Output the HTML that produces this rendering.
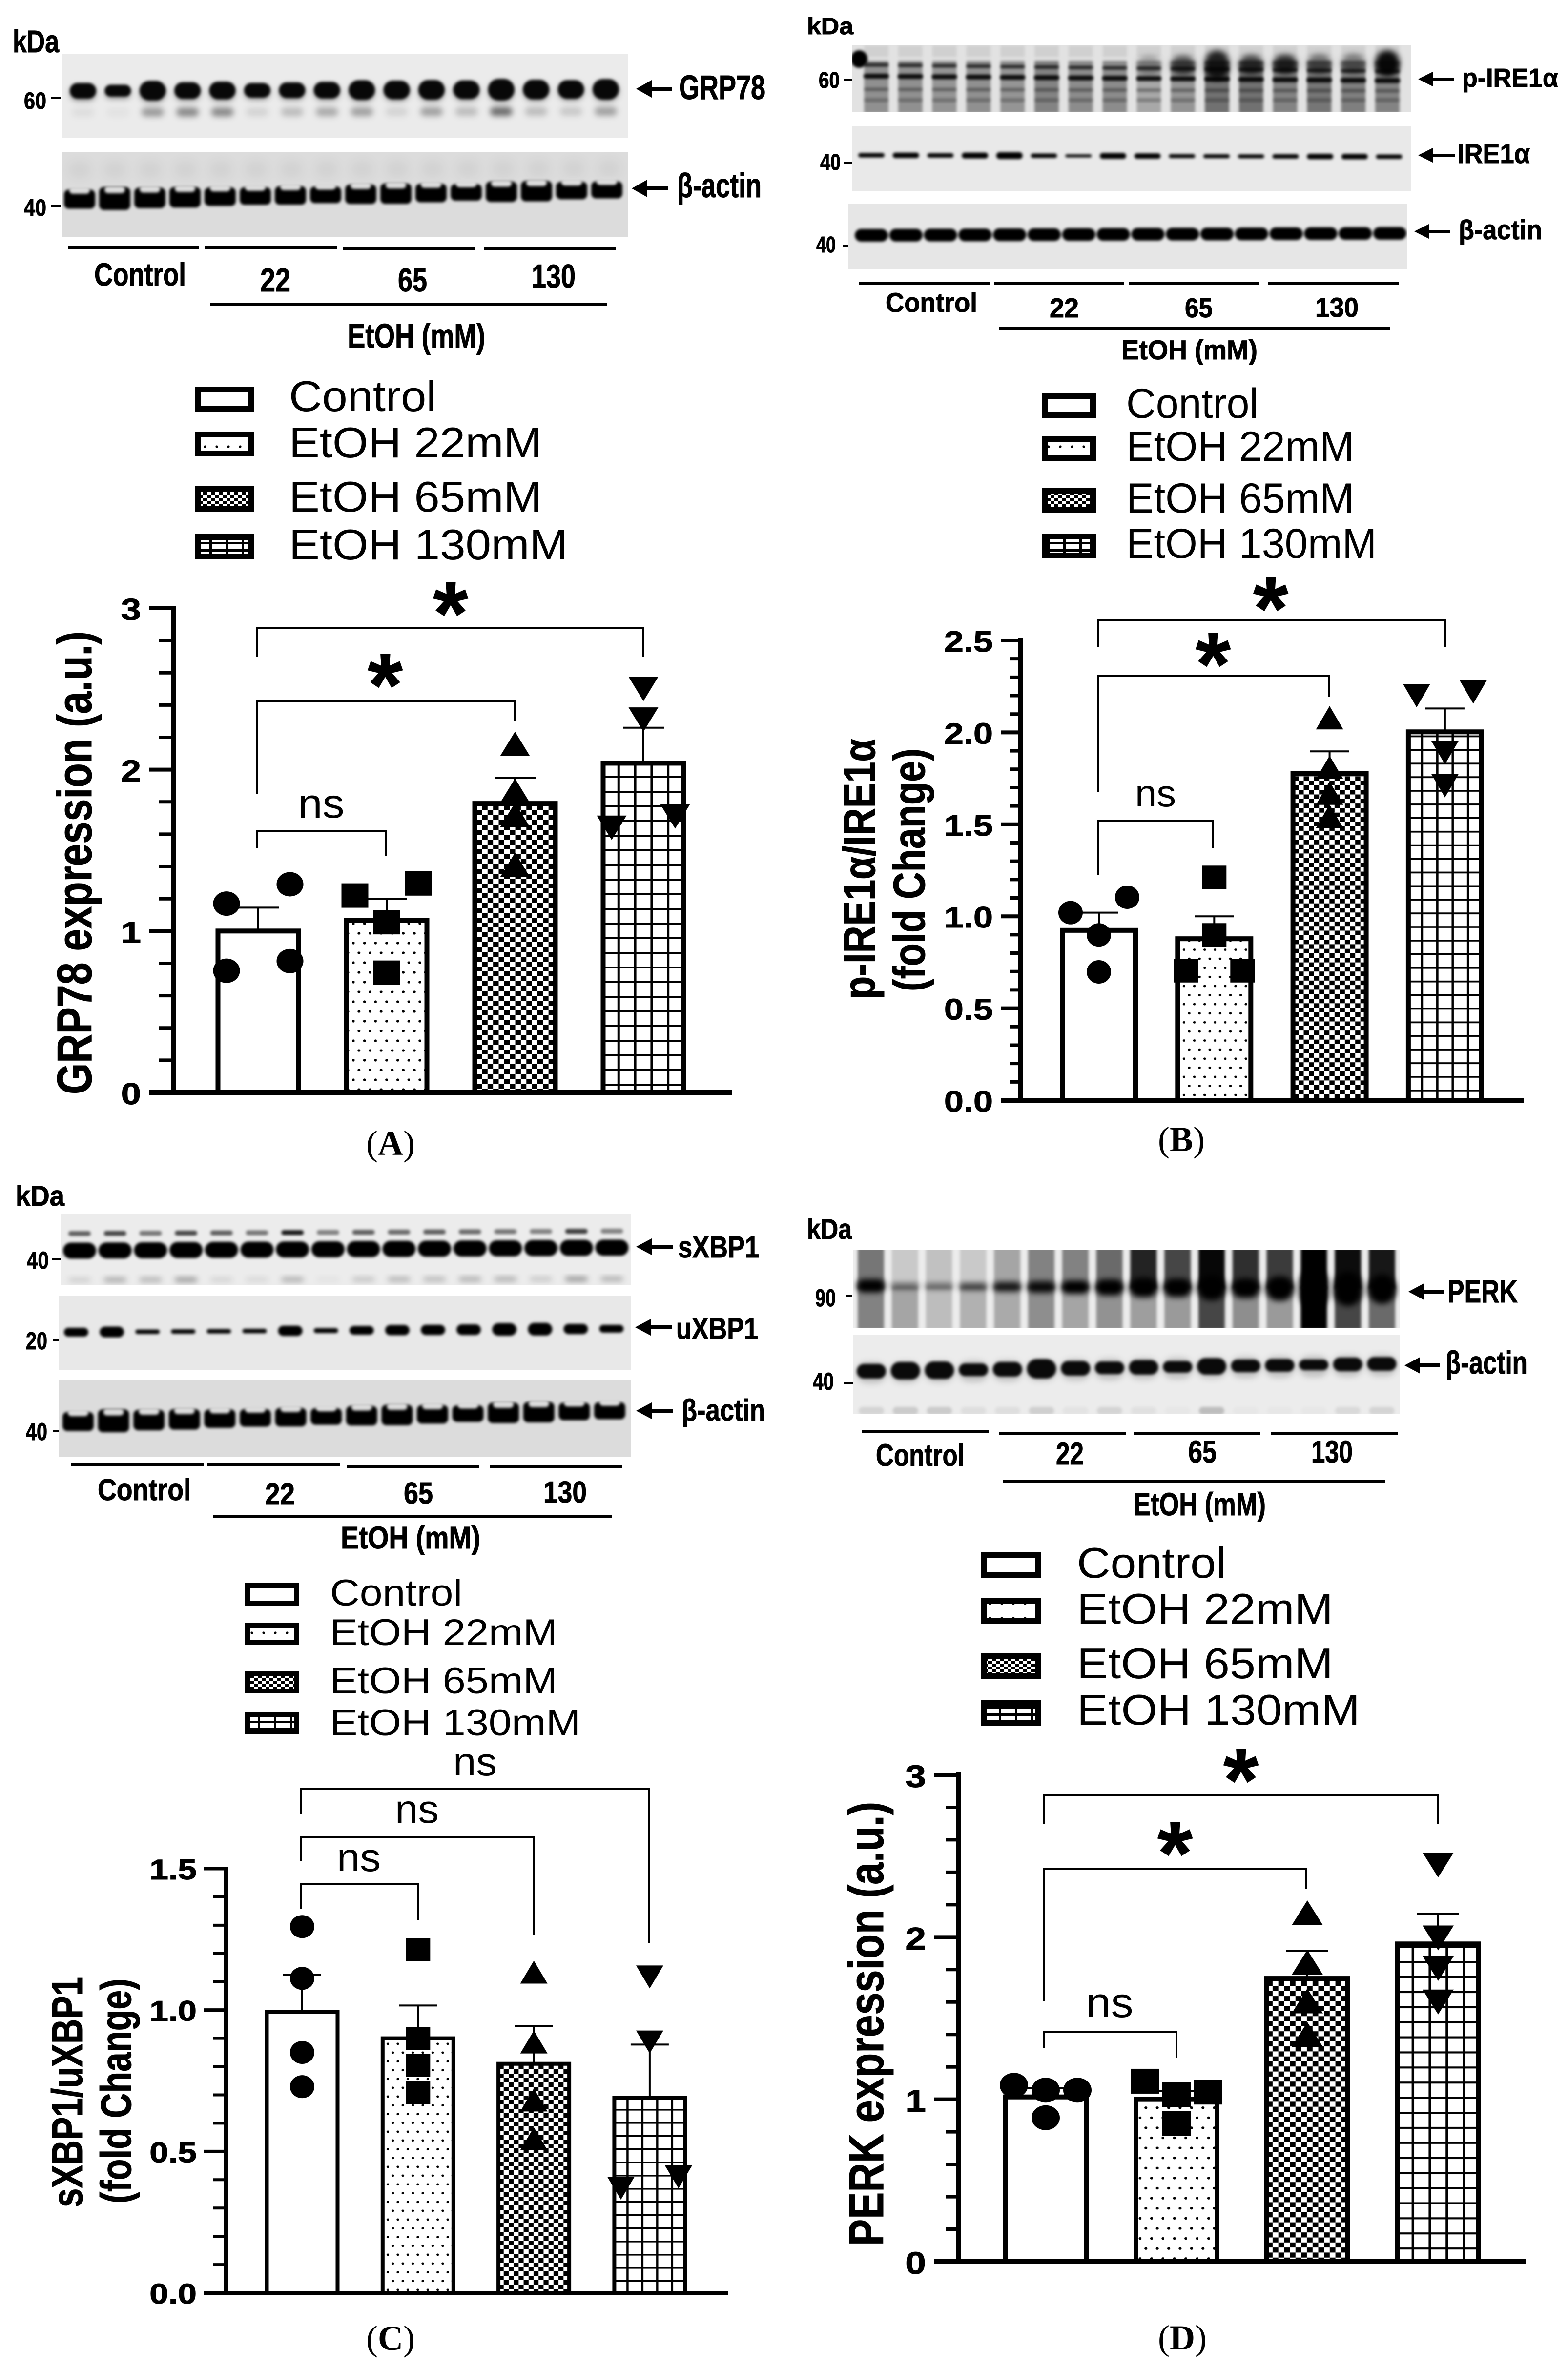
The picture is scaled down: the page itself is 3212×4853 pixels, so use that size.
<!DOCTYPE html>
<html lang="en"><head><meta charset="utf-8"><title>ER stress western blots and quantification</title>
<style>
html,body{margin:0;padding:0;background:#fff}
svg{display:block}
text{font-family:"Liberation Sans","DejaVu Sans",sans-serif;fill:#000}
.b{font-weight:700;stroke:#000;stroke-width:1}
.serif{font-family:"Liberation Serif",serif}
</style></head><body>
<svg id="figure" xmlns="http://www.w3.org/2000/svg" width="3212" height="4853" viewBox="0 0 3212 4853">
<defs>
<filter id="blur-s" x="-30%" y="-60%" width="160%" height="220%"><feGaussianBlur stdDeviation="3"/></filter>
<filter id="blur-m" x="-30%" y="-60%" width="160%" height="220%"><feGaussianBlur stdDeviation="6"/></filter>
<filter id="blur-l" x="-30%" y="-30%" width="160%" height="160%"><feGaussianBlur stdDeviation="9"/></filter>
<pattern id="dots" width="22.7" height="40" patternUnits="userSpaceOnUse"><rect width="22.7" height="40" fill="#fff"/><ellipse cx="20.3" cy="12" rx="3" ry="2.6"/><ellipse cx="8.9" cy="32" rx="3" ry="2.6"/></pattern>
<pattern id="check" width="22.7" height="20" patternUnits="userSpaceOnUse"><rect width="22.7" height="20" fill="#fff"/><rect width="11.35" height="10"/><rect x="11.35" y="10" width="11.35" height="10"/></pattern>
<pattern id="grid" width="33.8" height="30" patternUnits="userSpaceOnUse"><rect width="33.8" height="30" fill="#fff"/><rect x="14" width="5" height="30"/><rect width="33.8" height="4"/></pattern>
<pattern id="dots-a" href="#dots" patternTransform="scale(1)"/><pattern id="check-a" href="#check" patternTransform="scale(1)"/><pattern id="grid-a" href="#grid" patternTransform="translate(1284.6,0) scale(1)"/>
<pattern id="dots-b" href="#dots" patternTransform="scale(.93)"/><pattern id="check-b" href="#check" patternTransform="scale(.93)"/><pattern id="grid-b" href="#grid" patternTransform="translate(2929,0) scale(.93)"/>
<pattern id="dots-c" href="#dots" patternTransform="scale(.9)"/><pattern id="check-c" href="#check" patternTransform="scale(.9)"/><pattern id="grid-c" href="#grid" patternTransform="translate(1301,0) scale(.9)"/>
<pattern id="dots-d" href="#dots" patternTransform="scale(1.03)"/><pattern id="check-d" href="#check" patternTransform="scale(1.03)"/><pattern id="grid-d" href="#grid" patternTransform="translate(2912,0) scale(1.03)"/>
<pattern id="legend-dots" width="24" height="30" patternUnits="userSpaceOnUse"><rect width="24" height="30" fill="#fff"/><circle cx="12" cy="15" r="2.6"/></pattern>
<pattern id="legend-check" width="16" height="12" patternUnits="userSpaceOnUse"><rect width="16" height="12" fill="#fff"/><rect width="8" height="6"/><rect x="8" y="6" width="8" height="6"/></pattern>
<pattern id="legend-grid" width="33" height="15" patternUnits="userSpaceOnUse"><rect width="33" height="15" fill="#fff"/><rect width="5" height="15"/><rect width="33" height="5"/></pattern>
</defs>
<rect width="3212" height="4853" fill="#fff"/>
<g id="blots"></g>

<!-- Panel A blot annotations -->
<g>
<text class="b" x="26" y="107" font-size="64" textLength="95" lengthAdjust="spacingAndGlyphs">kDa</text>
<text class="b" x="49" y="223" font-size="48" textLength="46" lengthAdjust="spacingAndGlyphs">60</text>
<rect x="105" y="198" width="19" height="4"/>
<text class="b" x="49" y="442" font-size="48" textLength="46" lengthAdjust="spacingAndGlyphs">40</text>
<rect x="105" y="420" width="19" height="4"/>
<path d="M1303 182l32-18v14h41v8h-41v14z"/>
<text class="b" x="1391" y="203" font-size="70" textLength="177" lengthAdjust="spacingAndGlyphs">GRP78</text>
<path d="M1294 386l32-18v14h42v8h-42v14z"/>
<text class="b" x="1387" y="404" font-size="70" textLength="173" lengthAdjust="spacingAndGlyphs">β-actin</text>
<rect x="139" y="504" width="269" height="6"/><rect x="419" y="504" width="271" height="6"/><rect x="702" y="506" width="270" height="6"/><rect x="991" y="506" width="270" height="6"/>
<text class="b" x="193" y="585" font-size="66" textLength="188" lengthAdjust="spacingAndGlyphs">Control</text>
<text class="b" x="533" y="597" font-size="68" textLength="62" lengthAdjust="spacingAndGlyphs">22</text>
<text class="b" x="815" y="597" font-size="68" textLength="60" lengthAdjust="spacingAndGlyphs">65</text>
<text class="b" x="1089" y="589" font-size="68" textLength="90" lengthAdjust="spacingAndGlyphs">130</text>
<rect x="431" y="621" width="813" height="6"/>
<text class="b" x="712" y="712" font-size="70" textLength="282" lengthAdjust="spacingAndGlyphs">EtOH (mM)</text>
</g>
<g>
<rect x="406" y="798" width="109" height="40" fill="#fff" stroke="#000" stroke-width="12"/>
<rect x="406" y="890" width="109" height="39" fill="url(#legend-dots)" stroke="#000" stroke-width="12"/>
<rect x="406" y="1002" width="109" height="40" fill="url(#legend-check)" stroke="#000" stroke-width="12"/>
<rect x="406" y="1100" width="109" height="40" fill="url(#legend-grid)" stroke="#000" stroke-width="12"/>
<text x="592" y="842" font-size="88" textLength="302" lengthAdjust="spacingAndGlyphs">Control</text>
<text x="592" y="937" font-size="88" textLength="518" lengthAdjust="spacingAndGlyphs">EtOH 22mM</text>
<text x="592" y="1048" font-size="88" textLength="518" lengthAdjust="spacingAndGlyphs">EtOH 65mM</text>
<text x="592" y="1146" font-size="88" textLength="571" lengthAdjust="spacingAndGlyphs">EtOH 130mM</text>
</g>
<g id="chart-a"></g>
<g fill="none">
<path d="M526 1345V1287H1318V1345" stroke="#000" stroke-width="4" fill="none"/>
<path d="M526 1626V1437H1054V1477" stroke="#000" stroke-width="4" fill="none"/>
<path d="M526 1738V1703H791V1753" stroke="#000" stroke-width="4" fill="none"/>
<text class="b" x="923" y="1320" font-size="185" text-anchor="middle">*</text>
<text class="b" x="789" y="1467" font-size="185" text-anchor="middle">*</text>
<text x="658" y="1675" font-size="84" text-anchor="middle" textLength="95" lengthAdjust="spacingAndGlyphs">ns</text>
<text class="b" transform="translate(187,2242) rotate(-90)" font-size="100" textLength="949" lengthAdjust="spacingAndGlyphs">GRP78 expression (a.u.)</text>
<text class="serif" x="800" y="2366" font-size="72" text-anchor="middle">(<tspan font-weight="700">A</tspan>)</text>
</g>

<!-- Panel B blot annotations -->
<g>
<text class="b" x="1653" y="70" font-size="48" textLength="95" lengthAdjust="spacingAndGlyphs">kDa</text>
<text class="b" x="1677" y="180" font-size="46" textLength="43" lengthAdjust="spacingAndGlyphs">60</text>
<rect x="1728" y="161" width="17" height="4"/>
<text class="b" x="1680" y="348" font-size="46" textLength="42" lengthAdjust="spacingAndGlyphs">40</text>
<rect x="1728" y="331" width="17" height="4"/>
<text class="b" x="1672" y="517" font-size="46" textLength="40" lengthAdjust="spacingAndGlyphs">40</text>
<rect x="1726" y="501" width="12" height="4"/>
<path d="M2905 162l30-15v12h43v6h-43v12z"/>
<text class="b" x="2995" y="178" font-size="54" textLength="197" lengthAdjust="spacingAndGlyphs">p-IRE1α</text>
<path d="M2905 318l30-15v12h45v6h-45v12z"/>
<text class="b" x="2985" y="334" font-size="56" textLength="149" lengthAdjust="spacingAndGlyphs">IRE1α</text>
<path d="M2897 474l30-15v12h43v6h-43v12z"/>
<text class="b" x="2988" y="490" font-size="56" textLength="171" lengthAdjust="spacingAndGlyphs">β-actin</text>
<rect x="1760" y="578" width="267" height="5"/><rect x="2036" y="578" width="266" height="5"/><rect x="2313" y="578" width="266" height="5"/><rect x="2598" y="578" width="267" height="5"/>
<text class="b" x="1814" y="639" font-size="56" textLength="188" lengthAdjust="spacingAndGlyphs">Control</text>
<text class="b" x="2150" y="650" font-size="56" textLength="60" lengthAdjust="spacingAndGlyphs">22</text>
<text class="b" x="2427" y="650" font-size="56" textLength="57" lengthAdjust="spacingAndGlyphs">65</text>
<text class="b" x="2694" y="649" font-size="56" textLength="89" lengthAdjust="spacingAndGlyphs">130</text>
<rect x="2046" y="670" width="802" height="5"/>
<text class="b" x="2297" y="736" font-size="56" textLength="279" lengthAdjust="spacingAndGlyphs">EtOH (mM)</text>
</g>
<g>
<rect x="2141" y="811" width="98" height="39" fill="#fff" stroke="#000" stroke-width="12"/>
<rect x="2141" y="899" width="98" height="39" fill="url(#legend-dots)" stroke="#000" stroke-width="12"/>
<rect x="2141" y="1005" width="98" height="39" fill="url(#legend-check)" stroke="#000" stroke-width="12"/>
<rect x="2141" y="1099" width="98" height="39" fill="url(#legend-grid)" stroke="#000" stroke-width="12"/>
<text x="2307" y="856" font-size="86" textLength="271" lengthAdjust="spacingAndGlyphs">Control</text>
<text x="2307" y="944" font-size="86" textLength="467" lengthAdjust="spacingAndGlyphs">EtOH 22mM</text>
<text x="2307" y="1050" font-size="86" textLength="467" lengthAdjust="spacingAndGlyphs">EtOH 65mM</text>
<text x="2307" y="1143" font-size="86" textLength="513" lengthAdjust="spacingAndGlyphs">EtOH 130mM</text>
</g>
<g id="chart-b"></g>
<g>
<path d="M2249 1325V1270H2960V1325" stroke="#000" stroke-width="4" fill="none"/>
<path d="M2249 1622V1385H2723V1427" stroke="#000" stroke-width="4" fill="none"/>
<path d="M2249 1792V1682H2485V1738" stroke="#000" stroke-width="4" fill="none"/>
<text class="b" x="2603" y="1310" font-size="185" text-anchor="middle">*</text>
<text class="b" x="2485" y="1424" font-size="185" text-anchor="middle">*</text>
<text x="2367" y="1652" font-size="78" text-anchor="middle" textLength="84" lengthAdjust="spacingAndGlyphs">ns</text>
<text class="b" transform="translate(1792,2047) rotate(-90)" font-size="92" textLength="534" lengthAdjust="spacingAndGlyphs">p-IRE1α/IRE1α</text>
<text class="b" transform="translate(1894,2031) rotate(-90)" font-size="92" textLength="498" lengthAdjust="spacingAndGlyphs">(fold Change)</text>
<text class="serif" x="2420" y="2358" font-size="72" text-anchor="middle">(<tspan font-weight="700">B</tspan>)</text>
</g>

<!-- Panel C blot annotations -->
<g>
<text class="b" x="32" y="2470" font-size="58" textLength="100" lengthAdjust="spacingAndGlyphs">kDa</text>
<text class="b" x="55" y="2599" font-size="50" textLength="45" lengthAdjust="spacingAndGlyphs">40</text>
<rect x="107" y="2578" width="17" height="4"/>
<text class="b" x="53" y="2764" font-size="50" textLength="44" lengthAdjust="spacingAndGlyphs">20</text>
<rect x="108" y="2744" width="13" height="4"/>
<text class="b" x="53" y="2950" font-size="50" textLength="44" lengthAdjust="spacingAndGlyphs">40</text>
<rect x="108" y="2930" width="13" height="4"/>
<path d="M1303 2554l32-17v13h43v8h-43v13z"/>
<text class="b" x="1389" y="2576" font-size="62" textLength="166" lengthAdjust="spacingAndGlyphs">sXBP1</text>
<path d="M1301 2719l32-17v13h43v8h-43v13z"/>
<text class="b" x="1385" y="2743" font-size="62" textLength="168" lengthAdjust="spacingAndGlyphs">uXBP1</text>
<path d="M1303 2890l32-17v13h43v8h-43v13z"/>
<text class="b" x="1396" y="2910" font-size="62" textLength="172" lengthAdjust="spacingAndGlyphs">β-actin</text>
<rect x="145" y="2998" width="272" height="6"/><rect x="425" y="2998" width="272" height="6"/><rect x="710" y="3001" width="271" height="6"/><rect x="1003" y="3001" width="272" height="6"/>
<text class="b" x="200" y="3073" font-size="62" textLength="191" lengthAdjust="spacingAndGlyphs">Control</text>
<text class="b" x="543" y="3082" font-size="62" textLength="61" lengthAdjust="spacingAndGlyphs">22</text>
<text class="b" x="827" y="3080" font-size="62" textLength="60" lengthAdjust="spacingAndGlyphs">65</text>
<text class="b" x="1113" y="3078" font-size="62" textLength="89" lengthAdjust="spacingAndGlyphs">130</text>
<rect x="437" y="3104" width="817" height="6"/>
<text class="b" x="698" y="3172" font-size="64" textLength="286" lengthAdjust="spacingAndGlyphs">EtOH (mM)</text>
</g>
<g>
<rect x="507" y="3248" width="100" height="36" fill="#fff" stroke="#000" stroke-width="10"/>
<rect x="507" y="3330" width="100" height="35" fill="url(#legend-dots)" stroke="#000" stroke-width="10"/>
<rect x="507" y="3428" width="100" height="36" fill="url(#legend-check)" stroke="#000" stroke-width="10"/>
<rect x="507" y="3512" width="100" height="36" fill="url(#legend-grid)" stroke="#000" stroke-width="10"/>
<text x="676" y="3289" font-size="76" textLength="271" lengthAdjust="spacingAndGlyphs">Control</text>
<text x="676" y="3370" font-size="76" textLength="466" lengthAdjust="spacingAndGlyphs">EtOH 22mM</text>
<text x="676" y="3469" font-size="76" textLength="466" lengthAdjust="spacingAndGlyphs">EtOH 65mM</text>
<text x="676" y="3555" font-size="76" textLength="513" lengthAdjust="spacingAndGlyphs">EtOH 130mM</text>
</g>
<g id="chart-c"></g>
<g>
<path d="M617 3716V3665H1330V3980" stroke="#000" stroke-width="4" fill="none"/>
<path d="M617 3813V3763H1094V3964" stroke="#000" stroke-width="4" fill="none"/>
<path d="M617 3911V3859H857V3934" stroke="#000" stroke-width="4" fill="none"/>
<text x="973" y="3637" font-size="82" text-anchor="middle" textLength="90" lengthAdjust="spacingAndGlyphs">ns</text>
<text x="854" y="3734" font-size="82" text-anchor="middle" textLength="90" lengthAdjust="spacingAndGlyphs">ns</text>
<text x="735" y="3833" font-size="82" text-anchor="middle" textLength="90" lengthAdjust="spacingAndGlyphs">ns</text>
<text class="b" transform="translate(168,4522) rotate(-90)" font-size="88" textLength="473" lengthAdjust="spacingAndGlyphs">sXBP1/uXBP1</text>
<text class="b" transform="translate(268,4514) rotate(-90)" font-size="88" textLength="461" lengthAdjust="spacingAndGlyphs">(fold Change)</text>
<text class="serif" x="800" y="4814" font-size="72" text-anchor="middle">(<tspan font-weight="700">C</tspan>)</text>
</g>

<!-- Panel D blot annotations -->
<g>
<text class="b" x="1653" y="2538" font-size="58" textLength="92" lengthAdjust="spacingAndGlyphs">kDa</text>
<text class="b" x="1670" y="2676" font-size="50" textLength="42" lengthAdjust="spacingAndGlyphs">90</text>
<rect x="1733" y="2652" width="12" height="4"/>
<text class="b" x="1665" y="2847" font-size="50" textLength="43" lengthAdjust="spacingAndGlyphs">40</text>
<rect x="1728" y="2831" width="19" height="4"/>
<path d="M2885 2646l32-17v13h40v8h-40v13z"/>
<text class="b" x="2965" y="2668" font-size="66" textLength="144" lengthAdjust="spacingAndGlyphs">PERK</text>
<path d="M2877 2797l32-17v13h41v8h-41v13z"/>
<text class="b" x="2961" y="2814" font-size="66" textLength="168" lengthAdjust="spacingAndGlyphs">β-actin</text>
<rect x="1765" y="2930" width="261" height="6"/><rect x="2046" y="2933" width="261" height="6"/><rect x="2322" y="2933" width="260" height="6"/><rect x="2603" y="2933" width="260" height="6"/>
<text class="b" x="1794" y="3003" font-size="64" textLength="182" lengthAdjust="spacingAndGlyphs">Control</text>
<text class="b" x="2163" y="3000" font-size="64" textLength="57" lengthAdjust="spacingAndGlyphs">22</text>
<text class="b" x="2434" y="2996" font-size="64" textLength="58" lengthAdjust="spacingAndGlyphs">65</text>
<text class="b" x="2686" y="2996" font-size="64" textLength="85" lengthAdjust="spacingAndGlyphs">130</text>
<rect x="2055" y="3031" width="783" height="6"/>
<text class="b" x="2322" y="3104" font-size="66" textLength="271" lengthAdjust="spacingAndGlyphs">EtOH (mM)</text>
</g>
<g>
<rect x="2015" y="3186" width="112" height="40" fill="#fff" stroke="#000" stroke-width="12"/>
<rect x="2015" y="3279" width="112" height="41" fill="url(#legend-dots)" stroke="#000" stroke-width="12"/>
<rect x="2015" y="3392" width="112" height="41" fill="url(#legend-check)" stroke="#000" stroke-width="12"/>
<rect x="2015" y="3489" width="112" height="40" fill="url(#legend-grid)" stroke="#000" stroke-width="12"/>
<text x="2206" y="3232" font-size="88" textLength="306" lengthAdjust="spacingAndGlyphs">Control</text>
<text x="2206" y="3326" font-size="88" textLength="525" lengthAdjust="spacingAndGlyphs">EtOH 22mM</text>
<text x="2206" y="3438" font-size="88" textLength="525" lengthAdjust="spacingAndGlyphs">EtOH 65mM</text>
<text x="2206" y="3533" font-size="88" textLength="580" lengthAdjust="spacingAndGlyphs">EtOH 130mM</text>
</g>
<g id="chart-d"></g>
<g>
<path d="M2139 3737V3677H2945V3737" stroke="#000" stroke-width="4" fill="none"/>
<path d="M2139 4100V3829H2676V3870" stroke="#000" stroke-width="4" fill="none"/>
<path d="M2139 4196V4162H2410V4215" stroke="#000" stroke-width="4" fill="none"/>
<text class="b" x="2542" y="3710" font-size="185" text-anchor="middle">*</text>
<text class="b" x="2407" y="3860" font-size="185" text-anchor="middle">*</text>
<text x="2273" y="4132" font-size="86" text-anchor="middle" textLength="97" lengthAdjust="spacingAndGlyphs">ns</text>
<text class="b" transform="translate(1809,4601) rotate(-90)" font-size="100" textLength="910" lengthAdjust="spacingAndGlyphs">PERK expression (a.u.)</text>
<text class="serif" x="2422" y="4813" font-size="72" text-anchor="middle">(<tspan font-weight="700">D</tspan>)</text>
</g>
</svg>
<script>
// ---------- chart data ----------
const groups = ['control', 'etoh-22', 'etoh-65', 'etoh-130'];
const markerShapes = ['circle', 'square', 'up', 'down'];
const fillKinds = ['none', 'dots', 'check', 'grid'];

const grp78Means = [1.0, 1.067, 1.79, 2.04];
const grp78Errors = [1.145, 1.2, 1.95, 2.26];
const grp78Control = [1.17, 1.29, 0.754, 0.814];
const grp78Etoh22 = [1.22, 1.295, 1.055, 0.742];
const grp78Etoh65 = [2.16, 1.87, 1.72, 1.41];
const grp78Etoh130 = [2.5, 2.31, 1.64, 1.71];
const grp78Ticks = ['0', '1', '2', '3'];

const ire1Means = [0.924, 0.878, 1.777, 2.003];
const ire1Errors = [1.02, 1.0, 1.897, 2.13];
const ire1Control = [1.02, 1.104, 0.899, 0.698];
const ire1Etoh22 = [1.212, 0.899, 0.704, 0.704];
const ire1Etoh65 = [2.08, 1.81, 1.67, 1.544];
const ire1Etoh130 = [2.2, 2.22, 1.89, 1.71];
const ire1Ticks = ['0.0', '0.5', '1.0', '1.5', '2.0', '2.5'];

const xbp1Means = [0.993, 0.9, 0.81, 0.69];
const xbp1Errors = [1.124, 1.016, 0.944, 0.878];
const xbp1Control = [1.295, 1.112, 0.85, 0.729];
const xbp1Etoh22 = [1.213, 0.9, 0.804, 0.708];
const xbp1Etoh65 = [1.134, 0.887, 0.682, 0.545];
const xbp1Etoh130 = [1.117, 0.887, 0.37, 0.41];
const xbp1Ticks = ['0.0', '0.5', '1.0', '1.5'];

const perkMeans = [1.015, 1.0, 1.745, 1.958];
const perkErrors = [1.07, 1.05, 1.915, 2.145];
const perkControl = [1.087, 1.057, 1.057, 0.887];
const perkEtoh22 = [1.112, 1.03, 1.045, 0.852];
const perkEtoh65 = [2.15, 1.845, 1.607, 1.40];
const perkEtoh130 = [2.445, 1.995, 1.807, 1.6];
const perkTicks = ['0', '1', '2', '3'];

// swarm lane of each replicate (-1 left, 0 centre, 1 right)
const grp78Lanes = [[-1, 1, -1, 1], [-1, 1, 0, 0], [0, 0, 0, 0], [0, 0, -1, 1]];
const ire1Lanes = [[-1, 1, 0, 0], [0, 0, -1, 1], [0, 0, 0, 0], [-1, 1, 0, 0]];
const xbp1Lanes = [[0, 0, 0, 0], [0, 0, 0, 0], [0, 0, 0, 0], [0, 0, -1, 1]];
const perkLanes = [[-1, 0, 1, 0], [-1, 0, 1, 0], [0, 0, 0, 0], [0, 0, 0, 0]];

// ---------- band densities (one per lane) ----------
const grp78Band = [32, 24, 40, 34, 36, 30, 32, 34, 40, 38, 40, 38, 44, 40, 38, 42];
const grp78Lower = [.06, .04, .35, .42, .42, .1, .2, .28, .32, .1, .32, .2, .55, .2, .15, .32];
const actinA = [39, 47, 42, 42, 38, 36, 38, 34, 40, 42, 38, 34, 42, 42, 36, 35];
const pireTopSmear = [0, 0, 0, 0, 0, 0, 0, 0, .3, .65, .85, .7, .8, .5, .45, .95];
const pireLane = [.36, .36, .34, .36, .34, .42, .38, .38, .26, .34, .5, .5, .42, .48, .44, .42];
const ire1Band = [9, 11, 9, 12, 14, 9, 6, 12, 11, 8, 8, 8, 9, 11, 11, 9];
const sxbpTop = [.6, .7, .5, .7, .6, .5, .9, .45, .6, .55, .6, .55, .5, .45, .75, .45];
const sxbpLow = [.14, .32, .28, .4, .12, .1, .3, .05, .2, .28, .25, .3, .3, .18, .42, .3];
const uxbpBand = [18, 22, 9, 9, 9, 9, 21, 10, 18, 21, 21, 22, 26, 26, 21, 16];
const perkTop = [.5, .15, .18, .15, .3, .45, .45, .55, .85, .7, .97, .8, .75, 1, .95, .9];
const perkBottom = [.45, .3, .2, .25, .28, .4, .3, .38, .33, .35, .7, .4, .35, 1, .7, .55];
const perkBand = [27, 12, 12, 14, 20, 24, 27, 33, 40, 38, 50, 40, 50, 80, 70, 60];
const perkBandDensity = [1, .55, .5, .7, .85, .9, 1, 1, 1, 1, 1, 1, 1, 1, 1, 1];
const perkActin = [30, 36, 36, 26, 30, 40, 30, 26, 30, 24, 34, 26, 26, 22, 28, 28];
const perkActinLow = [.1, .14, .14, .06, .06, .12, .04, .1, .05, .02, .2, .02, .02, .02, .08, .1];

// ---------- helpers ----------
const NS = 'http://www.w3.org/2000/svg';
function mk(parent, tag, attrs) {
  const el = document.createElementNS(NS, tag);
  for (const k in attrs) el.setAttribute(k, attrs[k]);
  parent.appendChild(el);
  return el;
}

function drawChart(rootId, c) {
  const root = document.getElementById(rootId);
  const yScale = v => c.y0 - (v / c.max) * (c.y0 - c.yTop);
  const xScale = i => c.c0 + i * c.step;
  const half = c.axisW / 2;

  // bars, error bars, points
  c.means.forEach((m, i) => {
    const cx = xScale(i);
    const fill = fillKinds[i] === 'none' ? '#fff' : 'url(#' + fillKinds[i] + '-' + c.suffix + ')';
    const bar = mk(root, 'rect', {x: cx - c.barW / 2, y: yScale(m), width: c.barW, height: c.y0 - yScale(m), fill: fill, stroke: '#000', 'stroke-width': c.barStroke});
    
    
    const stem = mk(root, 'line', {x1: cx, x2: cx, y1: yScale(m), y2: yScale(c.errors[i]), stroke: '#000', 'stroke-width': 4});
    
    
    const cap = mk(root, 'line', {x1: cx - c.capHalf, x2: cx + c.capHalf, y1: yScale(c.errors[i]), y2: yScale(c.errors[i]), stroke: '#000', 'stroke-width': 4});
    
    
  });
  c.points.forEach((series, i) => {
    series.forEach((v, j) => {
      const px = xScale(i) + c.lanes[i][j] * c.jitter;
      const py = yScale(v);
      const w = c.markW / 2, h = c.markH / 2;
      const shape = markerShapes[i];
      let pt;
      if (shape === 'circle') pt = mk(root, 'ellipse', {cx: px, cy: py, rx: w, ry: h});
      else if (shape === 'square') pt = mk(root, 'rect', {x: px - w, y: py - h, width: c.markW, height: c.markH});
      else if (shape === 'up') pt = mk(root, 'polygon', {points: [px, py - h, px + w + 3, py + h, px - w - 3, py + h].join(' ')});
      else pt = mk(root, 'polygon', {points: [px - w - 3, py - h, px + w + 3, py - h, px, py + h].join(' ')});
      
      
    });
  });

  // axes
  const yAxis = mk(root, 'line', {x1: c.axisX, x2: c.axisX, y1: c.yTop - half, y2: c.y0, stroke: '#000', 'stroke-width': c.axisW});
  
  
  const xAxis = mk(root, 'line', {x1: c.tickMajor, x2: c.xEnd, y1: c.y0, y2: c.y0, stroke: '#000', 'stroke-width': c.axisW});
  
  

  // ticks and labels
  const ticks = c.ticks;
  ticks.forEach((label, i) => {
    const v = parseFloat(label);
    const y = yScale(v);
    const tick = mk(root, 'line', {x1: c.tickMajor, x2: c.axisX, y1: y, y2: y, stroke: '#000', 'stroke-width': c.tickW});
    
    
    const t = mk(root, 'text', {transform: 'translate(' + c.labelRight + ',' + (y + c.labelDy) + ') scale(' + c.labelSx + ',1)', 'font-size': c.labelSize, 'text-anchor': 'end', class: 'b'});
    t.textContent = label;
    
    
    if (i < ticks.length - 1) {
      const next = parseFloat(ticks[i + 1]);
      for (let k = 1; k < c.minor; k++) {
        const my = yScale(v + (next - v) * k / c.minor);
        const mt = mk(root, 'line', {x1: c.tickMinor, x2: c.axisX, y1: my, y2: my, stroke: '#000', 'stroke-width': c.tickW - 1});
        
        
      }
    }
  });
}

drawChart('chart-a', {suffix: 'a', axisX: 355, y0: 2238, yTop: 1246, max: 3, xEnd: 1500, c0: 529, step: 263, barW: 165, barStroke: 10, capHalf: 42, jitter: 65, markW: 55, markH: 50, axisW: 10, tickW: 8, tickMajor: 305, tickMinor: 326, labelRight: 289, labelDy: 24, labelSize: 62, labelSx: 1.2, minor: 5, means: grp78Means, errors: grp78Errors, points: [grp78Control, grp78Etoh22, grp78Etoh65, grp78Etoh130], lanes: grp78Lanes, ticks: grp78Ticks});
drawChart('chart-b', {suffix: 'b', axisX: 2091, y0: 2254, yTop: 1312, max: 2.5, xEnd: 3122, c0: 2251, step: 236.3, barW: 150, barStroke: 10, capHalf: 40, jitter: 58, markW: 50, markH: 48, axisW: 10, tickW: 8, tickMajor: 2050, tickMinor: 2068, labelRight: 2034, labelDy: 23, labelSize: 60, labelSx: 1.2, minor: 5, means: ire1Means, errors: ire1Errors, points: [ire1Control, ire1Etoh22, ire1Etoh65, ire1Etoh130], lanes: ire1Lanes, ticks: ire1Ticks});
drawChart('chart-c', {suffix: 'c', axisX: 463, y0: 4697, yTop: 3828, max: 1.5, xEnd: 1492, c0: 619, step: 237.3, barW: 145, barStroke: 8, capHalf: 39, jitter: 59, markW: 50, markH: 47, axisW: 8, tickW: 7, tickMajor: 418, tickMinor: 437, labelRight: 403, labelDy: 22, labelSize: 58, labelSx: 1.2, minor: 5, means: xbp1Means, errors: xbp1Errors, points: [xbp1Control, xbp1Etoh22, xbp1Etoh65, xbp1Etoh130], lanes: xbp1Lanes, ticks: xbp1Ticks});
drawChart('chart-d', {suffix: 'd', axisX: 1964, y0: 4633, yTop: 3636, max: 3, xEnd: 3126, c0: 2142, step: 268, barW: 166, barStroke: 10, capHalf: 43, jitter: 65, markW: 58, markH: 51, axisW: 10, tickW: 8, tickMajor: 1914, tickMinor: 1937, labelRight: 1897, labelDy: 25, labelSize: 64, labelSx: 1.2, minor: 5, means: perkMeans, errors: perkErrors, points: [perkControl, perkEtoh22, perkEtoh65, perkEtoh130], lanes: perkLanes, ticks: perkTicks});

// ---------- blots ----------
let clipCount = 0;
function blot(name, x, y, w, h, bg, layers) {
  const root = document.getElementById('blots');
  const g = mk(root, 'g', {});
  
  
  const clipId = 'clip-' + (clipCount++);
  const defs = mk(g, 'clipPath', {id: clipId});
  mk(defs, 'rect', {x: x, y: y, width: w, height: h});
  mk(g, 'rect', {x: x, y: y, width: w, height: h, fill: bg});
  const clip = mk(g, 'g', {'clip-path': 'url(#' + clipId + ')'});
  layers.forEach(l => {
    const lg = mk(clip, 'g', {filter: 'url(#blur-' + (l.blur || 's') + ')', fill: l.color || '#000'});
    for (let i = 0; i < 16; i++) {
      const op = Array.isArray(l.op) ? l.op[i] : (l.op === undefined ? 1 : l.op);
      const bh = Array.isArray(l.h) ? l.h[i] : l.h;
      const bw = l.w;
      if (op <= 0) continue;
      const cx = l.x0 + i * l.dx;
      const cy = l.y0 + (l.y1 - l.y0) * i / 15;
      mk(lg, 'rect', {x: cx - bw / 2, y: cy - bh / 2, width: bw, height: bh, rx: l.rx === undefined ? Math.min(bw, bh) / 2 : l.rx, opacity: op});
    }
  });
}

// Panel A
blot('grp78-blot', 126, 111, 1160, 172, '#ebebeb', [
  {x0: 170, dx: 71.4, y0: 230, y1: 228, w: 46, h: 18, op: grp78Lower, blur: 'm'},
  {x0: 170, dx: 71.4, y0: 191, y1: 187, w: 54, h: grp78Band, op: .35, blur: 'm'},
  {x0: 170, dx: 71.4, y0: 186, y1: 183, w: 54, h: grp78Band, op: .95}
]);
blot('actin-blot-a', 126, 312, 1160, 174, '#dcdcdc', [
  {x0: 163, dx: 72.3, y0: 348, y1: 345, w: 50, h: 40, op: .04, blur: 'l'},
  {x0: 163, dx: 72, y0: 408, y1: 389, w: 64, h: actinA, rx: 10},
  {x0: 163, dx: 72, y0: 390, y1: 372, w: 42, h: 14, color: '#dcdcdc'}
]);
// Panel B
blot('p-ire1a-blot', 1745, 93, 1145, 137, '#e2e2e2', [
  {x0: 1795, dx: 69.8, y0: 178, y1: 178, w: 50, h: 108, op: pireLane, rx: 2},
  {x0: 1795, dx: 69.8, y0: 105, y1: 105, w: 50, h: 24, op: .08, rx: 2},
  {x0: 1795, dx: 69.8, y0: 140, y1: 130, w: 50, h: [0, 0, 0, 0, 0, 0, 0, 0, 40, 40, 60, 40, 40, 40, 40, 54], op: pireTopSmear, blur: 'm'},
  {x0: 1795, dx: 69.8, y0: 133, y1: 146, w: 50, h: 7, op: .75},
  {x0: 1795, dx: 69.8, y0: 156, y1: 165, w: 52, h: 10, op: .92},
  {x0: 1795, dx: 69.8, y0: 183, y1: 186, w: 50, h: 7, op: .35},
  {x0: 1795, dx: 69.8, y0: 205, y1: 205, w: 50, h: 8, op: .25},
  {x0: 1760, dx: 72.7, y0: 121, y1: 122, w: 34, h: 36, op: [1, 0, 0, 0, 0, 0, 0, 0, 0, 0, 0, 0, 0, 0, 0, 0]}
]);
blot('ire1a-blot', 1745, 259, 1145, 133, '#e9e9e9', [
  {x0: 1785, dx: 70.7, y0: 318, y1: 321, w: 54, h: ire1Band}
]);
blot('actin-blot-b', 1738, 418, 1145, 133, '#e6e6e6', [
  {x0: 1785, dx: 70.8, y0: 482, y1: 478, w: 68, h: 26}
]);
// Panel C
blot('sxbp1-blot', 124, 2487, 1168, 146, '#ececec', [
  {x0: 163, dx: 72.7, y0: 2527, y1: 2522, w: 46, h: 10, op: sxbpTop},
  {x0: 163, dx: 72.7, y0: 2622, y1: 2620, w: 46, h: 9, op: sxbpLow, blur: 'm'},
  {x0: 163, dx: 72.7, y0: 2562, y1: 2556, w: 68, h: 33}
]);
blot('uxbp1-blot', 121, 2654, 1171, 153, '#e8e8e8', [
  {x0: 156, dx: 73.1, y0: 2729, y1: 2722, w: 50, h: uxbpBand}
]);
blot('actin-blot-c', 121, 2827, 1171, 158, '#dcdcdc', [
  {x0: 160, dx: 72.6, y0: 2912, y1: 2890, w: 64, h: actinA, rx: 10},
  {x0: 160, dx: 72.6, y0: 2894, y1: 2873, w: 42, h: 14, color: '#dcdcdc'}
]);
// Panel D
blot('perk-blot', 1747, 2560, 1120, 161, '#ececec', [
  {x0: 1784, dx: 69.8, y0: 2598, y1: 2598, w: 54, h: 84, op: perkTop, rx: 2},
  {x0: 1784, dx: 69.8, y0: 2680, y1: 2680, w: 54, h: 88, op: perkBottom, rx: 2},
  {x0: 1784, dx: 69.8, y0: 2634, y1: 2641, w: 58, h: perkBand, op: perkBandDensity, blur: 'm'}
]);
blot('actin-blot-d', 1747, 2734, 1120, 163, '#ececec', [
  {x0: 1785, dx: 69.7, y0: 2890, y1: 2890, w: 52, h: 16, op: perkActinLow, blur: 's'},
  {x0: 1785, dx: 69.7, y0: 2812, y1: 2797, w: 62, h: 44, op: .18, blur: 'm'},
  {x0: 1785, dx: 69.7, y0: 2809, y1: 2794, w: 60, h: perkActin, op: .95}
]);
</script>
</body></html>
